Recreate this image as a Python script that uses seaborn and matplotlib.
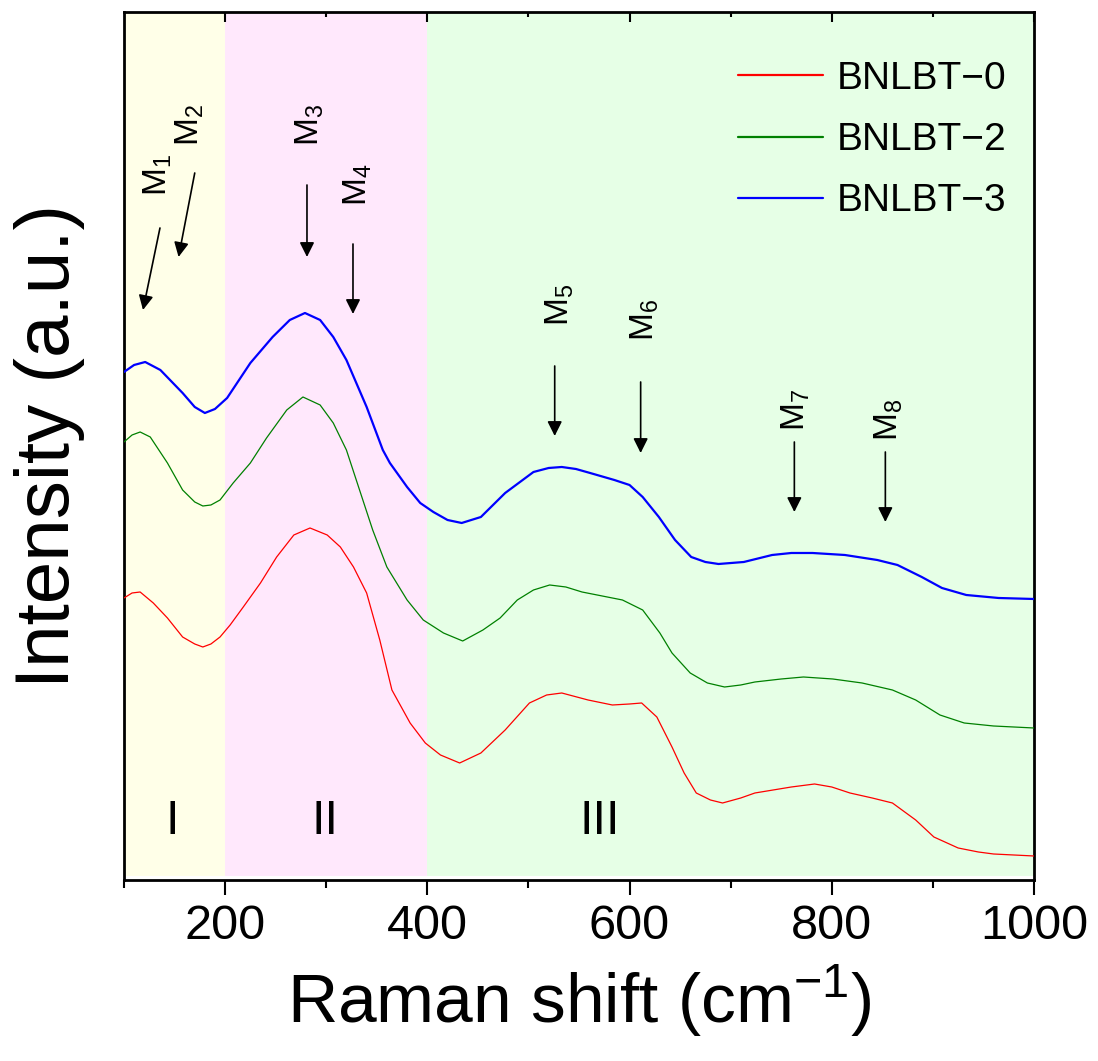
import pandas as pd
import seaborn as sns
import matplotlib.pyplot as plt
from matplotlib.ticker import MultipleLocator

# Raman spectra (arbitrary intensity units, offset stacked)
x_b0 = [100, 108, 116, 129, 143, 158, 170, 178, 186, 195, 205, 218, 235, 251, 268, 284,
        301, 314, 327, 340, 353, 365, 383, 398, 413, 432, 453, 477, 501, 518, 533, 559,
        583, 600, 612, 627, 642, 654, 666, 680, 692, 710, 724, 760, 783, 800, 818, 840,
        860, 883, 901, 925, 945, 960, 1000]
y_b0 = [282, 287, 288, 277, 262, 243, 236, 233, 236, 243, 255, 273, 297, 323, 345, 352,
        345, 333, 313, 287, 240, 190, 157, 137, 125, 117, 127, 150, 177, 185, 187, 180,
        175, 176, 177, 163, 133, 107, 87, 80, 77, 82, 87, 93, 96, 93, 87, 82, 77, 60, 43,
        32, 28, 26, 24]

x_b2 = [100, 108, 116, 126, 143, 158, 170, 178, 186, 195, 208, 225, 241, 261, 277, 294,
        307, 320, 333, 346, 360, 380, 396, 416, 435, 455, 472, 489, 505, 521, 537, 553,
        573, 593, 613, 630, 642, 660, 677, 694, 710, 724, 750, 772, 801, 830, 860, 883,
        907, 931, 960, 1000]
y_b2 = [438, 445, 448, 443, 417, 390, 378, 374, 375, 380, 397, 417, 442, 470, 483, 475,
        457, 430, 390, 350, 313, 280, 260, 247, 239, 250, 262, 280, 290, 295, 293, 288,
        284, 280, 270, 247, 227, 207, 197, 193, 195, 198, 201, 203, 201, 197, 190, 180,
        165, 157, 154, 152]

x_b3 = [100, 110, 121, 136, 158, 170, 180, 190, 202, 225, 247, 264, 279, 294, 307, 320,
        340, 356, 363, 380, 393, 406, 420, 434, 453, 477, 505, 520, 533, 547, 561, 585,
        600, 613, 629, 645, 661, 675, 688, 713, 741, 760, 781, 813, 845, 865, 889, 909,
        933, 965, 1000]
y_b3 = [508, 515, 518, 510, 487, 473, 467, 471, 482, 517, 543, 560, 567, 560, 543, 520,
        473, 430, 417, 393, 377, 368, 360, 357, 363, 387, 408, 412, 413, 411, 407, 400,
        395, 383, 363, 340, 323, 318, 316, 318, 325, 327, 327, 325, 320, 315, 303, 292,
        285, 282, 281]

labels = ['BNLBT\u22120', 'BNLBT\u22122', 'BNLBT\u22123']
colors = ['#FF0000', '#008000', '#0000FF']

major_ticks = [200, 400, 600, 800, 1000]
minor_ticks = [100, 300, 500, 700, 900]

regions = [(100, 200, '#FFFFE8', 'I', 148),
           (200, 400, '#FFE8FC', 'II', 299),
           (400, 1000, '#E6FFE6', 'III', 571)]

# mode markers: (label, arrow x0, y0, x1, y1, text x, text y)
modes = [('M$_1$', 135.6, 652, 118.8, 570, 133.6, 705),
         ('M$_2$', 170, 707, 154, 623, 165, 755),
         ('M$_3$', 281, 695, 281, 623, 284, 755),
         ('M$_4$', 326.5, 636, 326.5, 566, 331, 695),
         ('M$_5$', 526, 514, 526, 444, 531, 575),
         ('M$_6$', 611, 498, 611, 427, 615, 560),
         ('M$_7$', 763, 438, 763, 368, 764, 470),
         ('M$_8$', 853, 428, 853, 358, 856, 460)]

sns.set_style('white')
plt.rcParams['font.family'] = ['Liberation Sans', 'DejaVu Sans']
plt.rcParams['mathtext.default'] = 'regular'
plt.rcParams['text.color'] = 'black'
plt.rcParams['axes.labelcolor'] = 'black'
plt.rcParams['xtick.color'] = 'black'

fig = plt.figure(figsize=(10.98, 10.61), dpi=100)
ax = fig.add_axes([0.1129, 0.1706, 0.8288, 0.8181])

for lo, hi, c, name, tx in regions:
    ax.axvspan(lo, hi, ymin=0.005, ymax=1, color=c, lw=0, zorder=0)
    ax.text(tx, 58, name, fontsize=35, ha='center', va='center')

series = [(x_b0, y_b0, 0.9), (x_b2, y_b2, 0.9), (x_b3, y_b3, 1.6)]
for (xs, ys, lw), lab, col in zip(series, labels, colors):
    df = pd.DataFrame({'shift': xs, 'intensity': ys})
    sns.lineplot(data=df, x='shift', y='intensity', color=col, lw=lw,
                 label=lab, estimator=None, ax=ax, zorder=3)

for lab, x0, y0, x1, y1, tx, ty in modes:
    ax.annotate('', xy=(x1, y1), xytext=(x0, y0),
                arrowprops=dict(arrowstyle='-|>', color='black', lw=1.2,
                                mutation_scale=22, shrinkA=0, shrinkB=0))
    ax.text(tx, ty, lab, rotation=90, fontsize=24, ha='center', va='center')

ax.set_xlim(100, 1000)
ax.set_ylim(0, 868)
ax.set_yticks([])

for s in ax.spines.values():
    s.set_color('black')
    s.set_linewidth(2)

ax.set_xlabel('Raman shift (cm$^{\u22121}$)', fontsize=50, labelpad=10)
ax.set_ylabel('Intensity (a.u.)', fontsize=55, labelpad=28)

leg = ax.legend(loc='upper right', bbox_to_anchor=(1.0, 0.975), frameon=False,
                fontsize=28, handlelength=2.2, handletextpad=0.35, labelspacing=0.65,
                borderaxespad=0.3)
for h in leg.get_lines():
    h.set_linewidth(1.6)

# bottom ticks point out
ax.set_xticks(major_ticks)
ax.xaxis.set_minor_locator(MultipleLocator(100))
ax.tick_params(axis='x', which='both', direction='out', width=1.5,
               bottom=True, top=False, color='black')
ax.tick_params(axis='x', which='major', length=11, labelsize=35, pad=6)
ax.tick_params(axis='x', which='minor', length=6)

# top edge ticks point into the plot
xt = ax.get_xaxis_transform()
ax.vlines(major_ticks, 1 - 10 / 868, 1, transform=xt, colors='black', lw=1.5,
          clip_on=False, zorder=4)
ax.vlines(minor_ticks[1:], 1 - 5 / 868, 1, transform=xt, colors='black', lw=1.5,
          clip_on=False, zorder=4)

plt.savefig('out.png', dpi=100)
